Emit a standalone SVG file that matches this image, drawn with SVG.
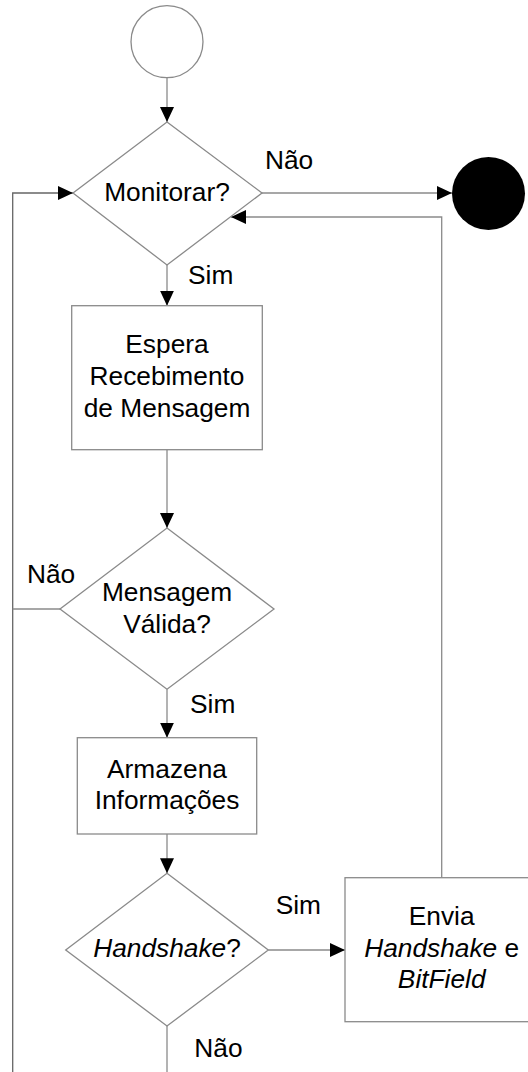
<svg xmlns="http://www.w3.org/2000/svg" width="528" height="1072" viewBox="0 0 528 1072">
<style>
.s{fill:#fff;stroke:#8a8a8a;stroke-width:1.3}
.c{fill:none;stroke:#8a8a8a;stroke-width:1.3}
.d{stroke:#666}
.t{font-family:"Liberation Sans",Arial,sans-serif;font-size:26.3px;fill:#000}
.m{text-anchor:middle}
.i{font-style:italic}
</style>
<defs>
<marker id="a" markerUnits="userSpaceOnUse" markerWidth="16" markerHeight="14" refX="15" refY="7" orient="auto">
<path d="M0,0 L15,7 L0,14 Z" fill="#000"/>
</marker>
</defs>
<rect width="528" height="1072" fill="#fff"/>
<g id="connectors">
<line class="c" x1="167" y1="78" x2="167" y2="122" marker-end="url(#a)"/>
<line class="c" x1="262" y1="193" x2="452" y2="193" marker-end="url(#a)"/>
<polyline class="c" points="441.7,877.7 441.7,217 231,217" marker-end="url(#a)"/>
<polyline class="c d" points="12.7,1072 12.7,193 73,193" marker-end="url(#a)"/>
<line class="c" x1="60" y1="609" x2="12.7" y2="609"/>
<line class="c" x1="167" y1="265" x2="167" y2="305.7" marker-end="url(#a)"/>
<line class="c" x1="167" y1="449.7" x2="167" y2="528" marker-end="url(#a)"/>
<line class="c" x1="167" y1="689.3" x2="167" y2="737.7" marker-end="url(#a)"/>
<line class="c" x1="167" y1="834" x2="167" y2="873.3" marker-end="url(#a)"/>
<line class="c" x1="268.3" y1="950" x2="345" y2="950" marker-end="url(#a)"/>
<line class="c" x1="167" y1="1026" x2="167" y2="1072"/>
<text class="t" x="265" y="169">Não</text>
<text class="t" x="188" y="284">Sim</text>
<text class="t" x="27" y="583">Não</text>
<text class="t" x="190" y="713">Sim</text>
<text class="t" x="275.7" y="914">Sim</text>
<text class="t" x="194.3" y="1057">Não</text>
</g>
<g id="start"><circle class="s" cx="167" cy="41.7" r="36"/></g>
<g id="end"><circle cx="488.5" cy="193.5" r="36.5" fill="#000"/></g>
<g id="monitorar">
<polygon class="s" points="167,122 262,193 167,265 73,193"/>
<text class="t m" x="167" y="201">Monitorar?</text>
</g>
<g id="espera">
<rect class="s" x="71.7" y="305.7" width="190.6" height="144"/>
<text class="t m" x="167" y="353.3">Espera</text>
<text class="t m" x="167" y="385.3">Recebimento</text>
<text class="t m" x="167" y="416.7">de Mensagem</text>
</g>
<g id="valida">
<polygon class="s" points="167,528 274,609 167,689.3 60,609"/>
<text class="t m" x="167" y="600.7">Mensagem</text>
<text class="t m" x="167" y="632.7">Válida?</text>
</g>
<g id="armazena">
<rect class="s" x="77.3" y="737.7" width="179.4" height="96.3"/>
<text class="t m" x="167" y="778.3">Armazena</text>
<text class="t m" x="167" y="809.3">Informações</text>
</g>
<g id="handshake">
<polygon class="s" points="167,873.3 268.3,950 167,1026 65.7,950"/>
<text class="t m" x="167" y="957.3"><tspan class="i">Handshake</tspan>?</text>
</g>
<g id="envia">
<rect class="s" x="345" y="877.7" width="193.4" height="144"/>
<text class="t m" x="441.7" y="925">Envia</text>
<text class="t m" x="441.7" y="956.7"><tspan class="i">Handshake</tspan> e</text>
<text class="t m i" x="441.7" y="988.3">BitField</text>
</g>
</svg>
